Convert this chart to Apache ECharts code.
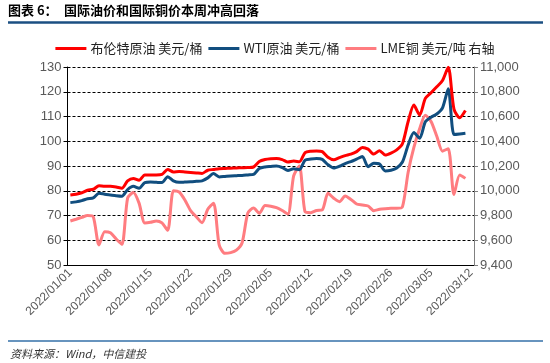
<!DOCTYPE html>
<html>
<head>
<meta charset="utf-8">
<script src="https://cdn.jsdelivr.net/npm/echarts@6/dist/echarts.min.js"></script>
<style>
html,body{margin:0;padding:0;background:#fff;}
#chart{width:550px;height:363px;}
</style>
</head>
<body>
<div id="chart"></div>
<script>
// Calendar days 2022/01/01 .. 2022/03/12 (category axis)
const startDate = [2022, 0, 1];
const dayCount = 71;
const categories = [];
for (let i = 0; i < dayCount; i++) {
  const d = new Date(Date.UTC(startDate[0], startDate[1], startDate[2] + i));
  const mm = String(d.getUTCMonth() + 1).padStart(2, '0');
  const dd = String(d.getUTCDate()).padStart(2, '0');
  categories.push(d.getUTCFullYear() + '/' + mm + '/' + dd);
}

const seriesNames = ['布伦特原油 美元/桶', 'WTI原油 美元/桶', 'LME铜 美元/吨 右轴'];

// Brent, USD/bbl (left axis), 2022/01/01 .. 2022/03/11
const brent = [
  78.3, 78.6, 79.2, 80.2, 80.6, 82.0, 81.8, 81.8, 81.5, 81.0,
  84.0, 85.0, 84.2, 86.4, 86.4, 86.4, 86.6, 88.6, 87.6, 87.8,
  87.6, 87.4, 87.2, 87.0, 88.3, 88.6, 88.9, 89.0, 89.1, 89.2,
  89.3, 89.4, 89.6, 91.8, 92.6, 92.9, 93.0, 92.6, 91.6, 92.0,
  91.7, 95.4, 96.0, 96.1, 95.8, 93.5, 92.5, 93.4, 94.2, 94.8,
  95.8, 97.5, 96.8, 94.8, 96.2, 94.4, 95.2, 96.5, 99.0, 108.0,
  114.6, 110.6, 117.3, 119.6, 122.0, 124.5, 129.9, 113.0, 109.5, 112.4
];

// WTI, USD/bbl (left axis)
const wti = [
  75.2, 75.5, 76.0, 76.8, 77.1, 79.0, 78.6, 78.3, 78.0, 77.8,
  80.5, 81.8, 81.0, 83.3, 83.5, 83.4, 83.3, 85.7, 84.0, 83.4,
  83.5, 83.6, 83.8, 84.0, 85.2, 87.0, 85.6, 85.8, 86.0, 86.1,
  86.2, 86.4, 86.6, 89.0, 89.6, 89.8, 90.0, 89.4, 88.2, 88.9,
  88.5, 92.4, 92.8, 93.0, 92.7, 90.5, 89.2, 89.9, 91.0, 91.8,
  92.8, 93.8, 89.7, 91.1, 90.8, 88.0, 88.3, 89.2, 91.6, 98.5,
  103.5, 101.2, 107.9, 109.7, 111.0, 113.5, 121.2, 102.7, 102.9, 103.2
];

// LME copper, USD/t (right axis)
const copper = [
  9756, 9770, 9785, 9800, 9790, 9562, 9669, 9660, 9610, 9567,
  9940, 9985, 9900, 9740, 9745, 9756, 9740, 9680, 10000, 9990,
  9925, 9840, 9790, 9742, 9850, 9900, 9560, 9494, 9500, 9520,
  9580, 9820, 9860, 9818, 9880, 9875, 9863, 9840, 9812, 10120,
  10200, 9830, 9823, 9840, 9845, 9980, 9940, 9912, 9958, 9930,
  9893, 9885, 9877, 9839, 9850, 9855, 9858, 9858, 9870, 10150,
  10350, 10500, 10610, 10560, 10440, 10320, 10340, 9970, 10127, 10100
];

const leftTicks = {min: 50, max: 130, interval: 10};
const rightTicks = {min: 9400, max: 11000, interval: 200};

const chart = echarts.init(document.getElementById('chart'), null, {renderer: 'canvas'});
const numFont = 'Liberation Sans, Arial, sans-serif';
const cjkFont = '"Noto Sans CJK SC", sans-serif';

chart.setOption({
  animation: false,
  backgroundColor: '#fff',
  graphic: [
    {type: 'text', left: 8, top: 4, style: {text: '图表 6：', font: 'bold 13px ' + cjkFont, fill: '#000'}},
    {type: 'text', left: 64, top: 4, style: {text: '国际油价和国际铜价本周冲高回落', font: 'bold 13px ' + cjkFont, fill: '#000'}},
    {type: 'line', shape: {x1: 8, y1: 22.5, x2: 543, y2: 22.5}, style: {stroke: '#1B4F82', lineWidth: 2.5}},
    {type: 'line', shape: {x1: 8, y1: 341, x2: 543, y2: 341}, style: {stroke: '#3470A8', lineWidth: 1.5}},
    {type: 'text', left: 10, top: 348, style: {text: '资料来源：Wind，中信建投', font: 'italic 11px ' + cjkFont, fill: '#333'}}
  ],
  legend: {
    top: 37,
    left: 'center',
    icon: 'rect',
    itemWidth: 31,
    itemHeight: 3,
    itemGap: 6,
    textStyle: {fontFamily: cjkFont, fontSize: 13, color: '#222', padding: [0, 0, 0, -1]},
    data: seriesNames
  },
  grid: {left: 67.5, right: 76, top: 67, bottom: 98, containLabel: false},
  xAxis: {
    type: 'category',
    data: categories,
    boundaryGap: true,
    axisLine: {lineStyle: {color: '#000', width: 1}},
    axisTick: {interval: 6, length: 4, lineStyle: {color: '#000'}},
    axisLabel: {interval: 6, rotate: 45, margin: 6, fontFamily: numFont, fontSize: 12, color: '#595959'},
    splitLine: {show: false}
  },
  yAxis: [
    {
      type: 'value',
      min: leftTicks.min, max: leftTicks.max, interval: leftTicks.interval,
      axisLine: {show: true, lineStyle: {color: '#000', width: 1}},
      axisTick: {show: true, length: 4, lineStyle: {color: '#000'}},
      axisLabel: {fontFamily: numFont, fontSize: 13, color: '#595959', margin: 6},
      splitLine: {show: true, lineStyle: {color: '#000', type: [3, 2], width: 1}}
    },
    {
      type: 'value',
      position: 'right',
      min: rightTicks.min, max: rightTicks.max, interval: rightTicks.interval,
      axisLine: {show: true, lineStyle: {color: '#808080', width: 1}},
      axisTick: {show: true, length: 4, lineStyle: {color: '#808080'}},
      axisLabel: {fontFamily: numFont, fontSize: 13, color: '#595959', margin: 6,
        formatter: v => v.toLocaleString('en-US')},
      splitLine: {show: false}
    }
  ],
  series: [
    {name: seriesNames[0], type: 'line', data: brent, yAxisIndex: 0, showSymbol: false, smooth: 0.25,
      lineStyle: {color: '#FF0000', width: 3}, itemStyle: {color: '#FF0000'}, z: 4},
    {name: seriesNames[1], type: 'line', data: wti, yAxisIndex: 0, showSymbol: false, smooth: 0.25,
      lineStyle: {color: '#114E7F', width: 3}, itemStyle: {color: '#114E7F'}, z: 3},
    {name: seriesNames[2], type: 'line', data: copper, yAxisIndex: 1, showSymbol: false, smooth: 0.25,
      lineStyle: {color: '#FF7C80', width: 3}, itemStyle: {color: '#FF7C80'}, z: 2}
  ]
});
</script>
</body>
</html>
